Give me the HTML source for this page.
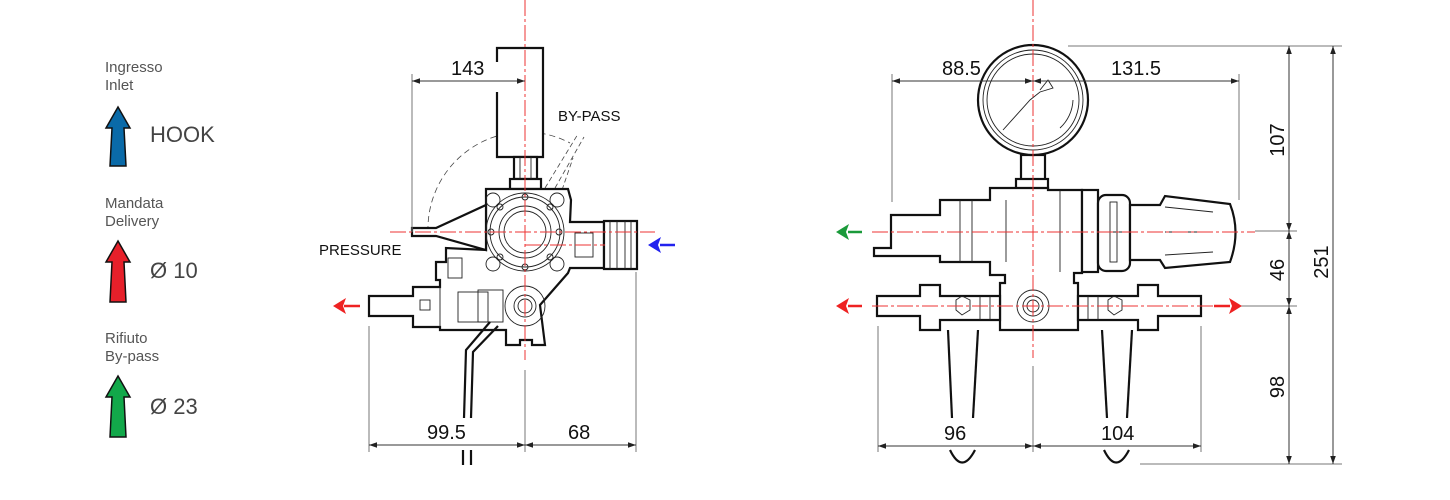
<!DOCTYPE html>
<html><head><meta charset="utf-8"><style>
html,body{margin:0;padding:0;background:#fff;}
svg{display:block;font-family:"Liberation Sans",Arial,sans-serif;}
</style></head><body>
<svg width="1450" height="500" viewBox="0 0 1450 500" xmlns="http://www.w3.org/2000/svg">
<defs>
<marker id="ar" viewBox="0 0 10 10" refX="10" refY="5" markerWidth="8" markerHeight="8" orient="auto-start-reverse" markerUnits="userSpaceOnUse"><path d="M0,1.5 L10,5 L0,8.5 Z" fill="#222"/></marker>
</defs>
<!-- LEGEND -->
<g fill="#555" font-size="15">
<text x="105" y="72">Ingresso</text><text x="105" y="90">Inlet</text>
<text x="105" y="208">Mandata</text><text x="105" y="226">Delivery</text>
<text x="105" y="343">Rifiuto</text><text x="105" y="361">By-pass</text>
</g>
<g fill="#444" font-size="22">
<text x="150" y="142">HOOK</text><text x="150" y="278">Ø 10</text><text x="150" y="414">Ø 23</text>
</g>
<g stroke="#111" stroke-width="1.5">
<path d="M118,107 L130,128 L124,128 L126,166 L110,166 L112,128 L106,128 Z" fill="#0a6aa8"/>
<path d="M118,241 L130,262 L124,262 L126,302 L110,302 L112,262 L106,262 Z" fill="#e6202a"/>
<path d="M118,376 L130,397 L124,397 L126,437 L110,437 L112,397 L106,397 Z" fill="#12a84a"/>
</g>

<!-- LEFT DRAWING -->
<path d="M428,232 A97,97 0 0 1 570,143" stroke="#444" stroke-width="0.8" fill="none" stroke-dasharray="6,4"/>
<g stroke="#444" stroke-width="0.8" fill="none" stroke-dasharray="5,3">
<line x1="545" y1="188" x2="578" y2="134"/><line x1="555" y1="188" x2="584" y2="137"/>
<line x1="562" y1="190" x2="573" y2="158"/>
</g>
<g stroke="#111" stroke-width="2.2" fill="#fff">
<path d="M497,62 L497,48 L543,48 L543,157 L497,157 L497,92"/>
<rect x="514" y="157" width="23" height="22"/>
<rect x="510" y="179" width="31" height="10"/>
<path d="M486,189 L568,189 L571,200 L570,222 L604,222 L604,268 L570,268 L568,273 L540,305 L545,345 L532,345 L532,340 L520,340 L520,345 L506,345 L506,330 L490,330 L440,330 L440,327 L413,327 L413,316 L369,316 L369,296 L413,296 L413,287 L440,287 L440,280 L436,280 L436,262 L446,262 L446,248 L486,250 L486,205 Z"/>
<path d="M412,228 L436,228 L486,205 L486,250 L436,236 L412,236 Z"/>
<path d="M604,221 L637,221 L637,269 L604,269 Z"/>
</g>
<g stroke="#222" stroke-width="0.9" fill="none">
<line x1="610" y1="221" x2="610" y2="269"/><line x1="617" y1="221" x2="617" y2="269"/><line x1="625" y1="221" x2="625" y2="269"/><line x1="631" y1="221" x2="631" y2="269"/>
<circle cx="525" cy="232" r="39"/><circle cx="525" cy="232" r="35"/><circle cx="525" cy="232" r="26"/><circle cx="525" cy="232" r="21"/>
<circle cx="493" cy="200" r="7"/><circle cx="557" cy="200" r="7"/><circle cx="493" cy="264" r="7"/><circle cx="557" cy="264" r="7"/>
<circle cx="525" cy="197" r="3"/><circle cx="525" cy="267" r="3"/><circle cx="491" cy="232" r="3"/><circle cx="559" cy="232" r="3"/>
<circle cx="500" cy="207" r="3"/><circle cx="550" cy="207" r="3"/><circle cx="500" cy="257" r="3"/><circle cx="550" cy="257" r="3"/>
<line x1="520" y1="157" x2="520" y2="179"/><line x1="531" y1="157" x2="531" y2="179"/>
<rect x="575" y="233" width="18" height="24"/>
<circle cx="525" cy="306" r="20"/><circle cx="525" cy="306" r="11"/><circle cx="525" cy="306" r="7"/>
<rect x="420" y="300" width="10" height="10"/>
<rect x="448" y="258" width="14" height="20"/><rect x="458" y="292" width="30" height="30"/>
<rect x="478" y="290" width="25" height="32"/><line x1="440" y1="287" x2="440" y2="327"/>
</g>
<g stroke="#111" stroke-width="2.2" fill="none">
<path d="M490,322 L466,350 L464,418"/><path d="M498,326 L473,352 L471,418"/>
<line x1="463" y1="450" x2="463" y2="465"/><line x1="471" y1="450" x2="471" y2="465"/>
</g>
<g stroke="#e33" stroke-width="1" fill="none" stroke-dasharray="16,3,3,3">
<line x1="525" y1="0" x2="525" y2="360"/>
<line x1="390" y1="232" x2="655" y2="232"/>
<line x1="525" y1="245" x2="605" y2="245"/>
</g>
<g stroke="#777" stroke-width="1">
<line x1="412" y1="74" x2="412" y2="232"/>
<line x1="369" y1="326" x2="369" y2="452"/><line x1="636" y1="272" x2="636" y2="452"/>
<line x1="525" y1="370" x2="525" y2="452"/>
</g>
<g stroke="#333" stroke-width="1" marker-start="url(#ar)" marker-end="url(#ar)">
<line x1="412" y1="81" x2="525" y2="81"/>
<line x1="369" y1="445" x2="525" y2="445"/><line x1="525" y1="445" x2="636" y2="445"/>
</g>
<g font-size="20" fill="#111">
<text x="451" y="75">143</text><text x="427" y="439">99.5</text><text x="568" y="439">68</text>
</g>
<g font-size="15" fill="#111"><text x="558" y="121">BY-PASS</text><text x="319" y="255">PRESSURE</text></g>
<g>
<line x1="360" y1="306" x2="344" y2="306" stroke="#e22" stroke-width="2.5"/><path d="M346,298 L333,306 L346,314 L343,306 Z" fill="#e22"/>
<line x1="675" y1="245" x2="660" y2="245" stroke="#22e" stroke-width="2.5"/><path d="M661,237 L648,245 L661,253 L658,245 Z" fill="#22e"/>
</g>

<!-- RIGHT DRAWING -->
<g stroke="#111" stroke-width="2.2" fill="#fff">
<rect x="1021" y="155" width="24" height="25"/>
<rect x="1016" y="179" width="32" height="11"/>
<path d="M874,248 L874,256 L940,256 L940,262 L990,262 L990,275 L1005,275 L1005,283 L1000,283 L1000,330 L1078,330 L1078,283 L1074,283 L1074,273 L1082,273 L1082,190 L1048,190 L1048,188 L990,188 L990,200 L940,200 L940,215 L891,215 L891,248 Z"/>
<rect x="1082" y="190" width="16" height="82"/>
<rect x="1098" y="195" width="32" height="76" rx="8"/>
<path d="M1130,205 L1160,205 L1165,196 L1230,204 Q1241,232 1230,262 L1165,268 L1160,260 L1130,260 Z"/>
<path d="M920,285 L940,285 L940,296 L1000,296 L1000,320 L940,320 L940,330 L920,330 L920,316 L877,316 L877,296 L920,296 Z"/>
<path d="M1158,285 L1138,285 L1138,296 L1078,296 L1078,320 L1138,320 L1138,330 L1158,330 L1158,316 L1201,316 L1201,296 L1158,296 Z"/>
<circle cx="1033" cy="100" r="55"/>
</g>
<g stroke="#222" stroke-width="0.9" fill="none">
<circle cx="1033" cy="100" r="50"/><circle cx="1033" cy="100" r="46"/>
<path d="M1003,130 L1030,100 L1040,92 L1053,88 L1048,80 L1040,90"/>
<path d="M1060,128 A40,40 0 0 0 1073,100"/>
<line x1="1006" y1="200" x2="1006" y2="262"/><line x1="1060" y1="190" x2="1060" y2="272"/>
<line x1="1165" y1="207" x2="1213" y2="212"/><line x1="1165" y1="232" x2="1213" y2="232"/><line x1="1165" y1="255" x2="1213" y2="252"/>
<rect x="1110" y="202" width="7" height="60"/><line x1="1100" y1="232" x2="1135" y2="232"/>
<line x1="960" y1="200" x2="960" y2="262"/><line x1="972" y1="200" x2="972" y2="262"/>
<circle cx="1033" cy="306" r="16" /><circle cx="1033" cy="306" r="10"/><circle cx="1033" cy="306" r="6"/>
<polygon points="956,300 962,296 970,300 970,310 962,315 956,310"/>
<polygon points="1108,300 1114,296 1122,300 1122,310 1114,315 1108,310"/>
<line x1="980" y1="296" x2="980" y2="320"/><line x1="990" y1="296" x2="990" y2="320"/>
<line x1="1088" y1="296" x2="1088" y2="320"/><line x1="1098" y1="296" x2="1098" y2="320"/>
</g>
<g stroke="#111" stroke-width="2.2" fill="none">
<path d="M948,330 L952,418"/><path d="M978,330 L973,418"/>
<path d="M1102,330 L1107,418"/><path d="M1132,330 L1127,418"/>
<path d="M950,450 Q962,475 975,450"/><path d="M1104,450 Q1116,475 1129,450"/>
</g>
<g stroke="#e33" stroke-width="1" fill="none" stroke-dasharray="16,3,3,3">
<line x1="1033" y1="0" x2="1033" y2="358"/>
<line x1="872" y1="232" x2="1255" y2="232"/>
<line x1="872" y1="306" x2="1215" y2="306"/>
</g>
<g stroke="#777" stroke-width="1">
<line x1="892" y1="74" x2="892" y2="202"/><line x1="1239" y1="74" x2="1239" y2="200"/>
<line x1="878" y1="326" x2="878" y2="452"/><line x1="1201" y1="326" x2="1201" y2="452"/>
<line x1="1033" y1="366" x2="1033" y2="452"/>
<line x1="1068" y1="46" x2="1342" y2="46"/><line x1="1140" y1="464" x2="1342" y2="464"/>
<line x1="1255" y1="231" x2="1297" y2="231"/><line x1="1240" y1="306" x2="1297" y2="306"/>
</g>
<g stroke="#333" stroke-width="1" marker-start="url(#ar)" marker-end="url(#ar)">
<line x1="892" y1="81" x2="1033" y2="81"/><line x1="1033" y1="81" x2="1239" y2="81"/>
<line x1="878" y1="446" x2="1033" y2="446"/><line x1="1033" y1="446" x2="1201" y2="446"/>
<line x1="1289" y1="46" x2="1289" y2="231"/><line x1="1289" y1="231" x2="1289" y2="306"/><line x1="1289" y1="306" x2="1289" y2="464"/>
<line x1="1333" y1="46" x2="1333" y2="464"/>
</g>
<g font-size="20" fill="#111">
<text x="942" y="75">88.5</text><text x="1111" y="75">131.5</text>
<text x="944" y="440">96</text><text x="1101" y="440">104</text>
<text transform="translate(1284,140) rotate(-90)" text-anchor="middle">107</text>
<text transform="translate(1284,270) rotate(-90)" text-anchor="middle">46</text>
<text transform="translate(1284,387) rotate(-90)" text-anchor="middle">98</text>
<text transform="translate(1328,262) rotate(-90)" text-anchor="middle">251</text>
</g>
<g>
<line x1="862" y1="232" x2="848" y2="232" stroke="#1a9a3a" stroke-width="2.5"/><path d="M849,224 L836,232 L849,240 L846,232 Z" fill="#1a9a3a"/>
<line x1="862" y1="306" x2="848" y2="306" stroke="#e22" stroke-width="2.5"/><path d="M849,298 L836,306 L849,314 L846,306 Z" fill="#e22"/>
<line x1="1214" y1="306" x2="1230" y2="306" stroke="#e22" stroke-width="2.5"/><path d="M1229,298 L1242,306 L1229,314 L1232,306 Z" fill="#e22"/>
</g>
</svg>
</body></html>
